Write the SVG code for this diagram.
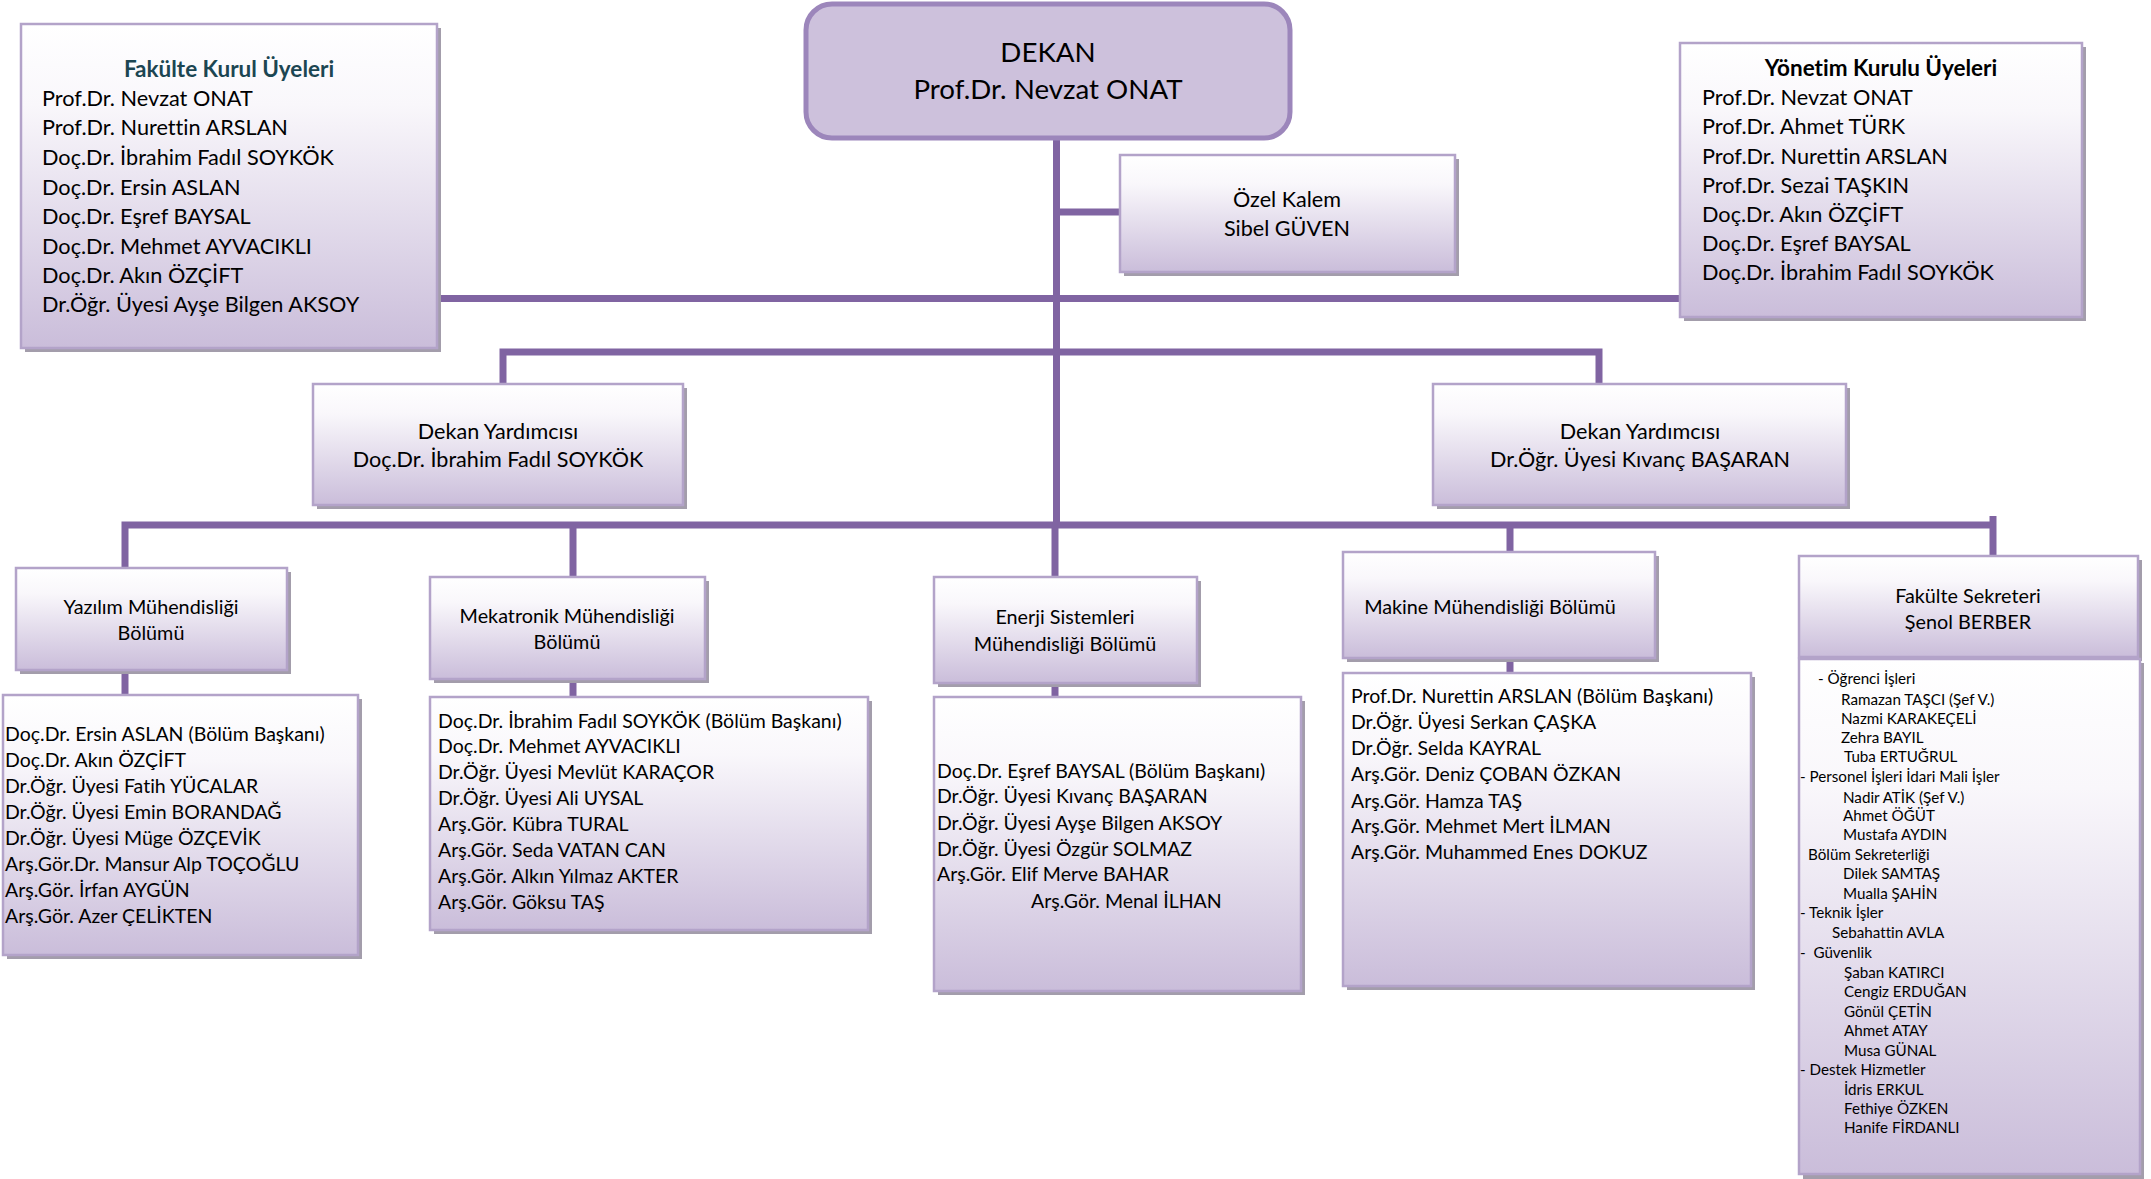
<svg xmlns="http://www.w3.org/2000/svg" width="2151" height="1179" viewBox="0 0 2151 1179">
<defs>
<linearGradient id="g" x1="0" y1="0" x2="0" y2="1">
<stop offset="0" stop-color="#FFFFFF"/>
<stop offset="0.25" stop-color="#F9F7FB"/>
<stop offset="1" stop-color="#CABDDA"/>
</linearGradient>
<style>
.box{fill:url(#g);stroke:#B3A3C9;stroke-width:2.5}
.sh{fill:#A39DAB}
.t{font-family:Lato,"Open Sans","Liberation Sans",sans-serif;fill:#000;font-variant-ligatures:none}
.c{text-anchor:middle}
.top{font-size:21.7px}
.ttl{font-size:22.5px;font-weight:bold}
.big{font-size:27.7px}
.mid{font-size:21.6px}
.hd{font-size:19.8px}
.mem{font-size:19.5px}
.sm{font-size:15.2px}
.con{stroke:#8064A2;stroke-width:7;fill:none}
</style>
</defs>

<g id="connectors">
<path class="con" d="M1056.5,138 V525"/>
<path class="con" d="M1056.5,212 H1120"/>
<path class="con" d="M437,298.5 H1680"/>
<path class="con" d="M503,384 V352 H1599 V384"/>
<path class="con" d="M125,568 V525 H1993"/>
<path class="con" d="M1993,516 V556"/>
<path class="con" d="M573,525 V577 M573,678 V697"/>
<path class="con" d="M1055,525 V577 M1055,683 V697"/>
<path class="con" d="M1510,525 V552 M1510,658 V673"/>
<path class="con" d="M125,670 V695"/>
</g>

<g id="fakulte-kurul">
<rect class="sh" x="25" y="28" width="416" height="324"/>
<rect class="box" x="21" y="24" width="416" height="324"/>
<text class="t ttl c" x="229" y="77" style="fill:#1C4652">Fakülte Kurul Üyeleri</text>
<text class="t top" x="42" y="106">Prof.Dr. Nevzat ONAT</text>
<text class="t top" x="42" y="135">Prof.Dr. Nurettin ARSLAN</text>
<text class="t top" x="42" y="165">Doç.Dr. İbrahim Fadıl SOYKÖK</text>
<text class="t top" x="42" y="195">Doç.Dr. Ersin ASLAN</text>
<text class="t top" x="42" y="224">Doç.Dr. Eşref BAYSAL</text>
<text class="t top" x="42" y="254">Doç.Dr. Mehmet AYVACIKLI</text>
<text class="t top" x="42" y="283">Doç.Dr. Akın ÖZÇİFT</text>
<text class="t top" x="42" y="312">Dr.Öğr. Üyesi Ayşe Bilgen AKSOY</text>
</g>

<g id="dekan">
<rect x="806" y="4" width="484" height="134" rx="26" ry="26" fill="#CDC1DC" stroke="#9C86BB" stroke-width="5"/>
<text class="t big c" x="1048" y="62">DEKAN</text>
<text class="t big c" x="1048" y="99">Prof.Dr. Nevzat ONAT</text>
</g>

<g id="ozel-kalem">
<rect class="sh" x="1124" y="159" width="335" height="117"/>
<rect class="box" x="1120" y="155" width="335" height="117"/>
<text class="t mid c" x="1287" y="207">Özel Kalem</text>
<text class="t mid c" x="1287" y="236">Sibel GÜVEN</text>
</g>

<g id="yonetim-kurulu">
<rect class="sh" x="1684" y="47" width="402" height="274"/>
<rect class="box" x="1680" y="43" width="402" height="274"/>
<text class="t ttl c" x="1881" y="76">Yönetim Kurulu Üyeleri</text>
<text class="t top" x="1702" y="105">Prof.Dr. Nevzat ONAT</text>
<text class="t top" x="1702" y="134">Prof.Dr. Ahmet TÜRK</text>
<text class="t top" x="1702" y="164">Prof.Dr. Nurettin ARSLAN</text>
<text class="t top" x="1702" y="193">Prof.Dr. Sezai TAŞKIN</text>
<text class="t top" x="1702" y="222">Doç.Dr. Akın ÖZÇİFT</text>
<text class="t top" x="1702" y="251">Doç.Dr. Eşref BAYSAL</text>
<text class="t top" x="1702" y="280">Doç.Dr. İbrahim Fadıl SOYKÖK</text>
</g>

<g id="dekan-yrd-1">
<rect class="sh" x="317" y="388" width="370" height="121"/>
<rect class="box" x="313" y="384" width="370" height="121"/>
<text class="t mid c" x="498" y="439">Dekan Yardımcısı</text>
<text class="t mid c" x="498" y="467">Doç.Dr. İbrahim Fadıl SOYKÖK</text>
</g>

<g id="dekan-yrd-2">
<rect class="sh" x="1437" y="388" width="413" height="121"/>
<rect class="box" x="1433" y="384" width="413" height="121"/>
<text class="t mid c" x="1640" y="439">Dekan Yardımcısı</text>
<text class="t mid c" x="1640" y="467">Dr.Öğr. Üyesi Kıvanç BAŞARAN</text>
</g>

<g id="yazilim">
<rect class="sh" x="20" y="572" width="271" height="102"/>
<rect class="box" x="16" y="568" width="271" height="102"/>
<text class="t hd c" x="151" y="614">Yazılım Mühendisliği</text>
<text class="t hd c" x="151" y="640">Bölümü</text>
</g>
<g id="yazilim-uyeler">
<rect class="sh" x="7" y="699" width="355" height="260"/>
<rect class="box" x="3" y="695" width="355" height="260"/>
<text class="t mem" x="5" y="741">Doç.Dr. Ersin ASLAN (Bölüm Başkanı)</text>
<text class="t mem" x="5" y="767">Doç.Dr. Akın ÖZÇİFT</text>
<text class="t mem" x="5" y="793">Dr.Öğr. Üyesi Fatih YÜCALAR</text>
<text class="t mem" x="5" y="819">Dr.Öğr. Üyesi Emin BORANDAĞ</text>
<text class="t mem" x="5" y="845">Dr.Öğr. Üyesi Müge ÖZÇEVİK</text>
<text class="t mem" x="5" y="871">Arş.Gör.Dr. Mansur Alp TOÇOĞLU</text>
<text class="t mem" x="5" y="897">Arş.Gör. İrfan AYGÜN</text>
<text class="t mem" x="5" y="923">Arş.Gör. Azer ÇELİKTEN</text>
</g>

<g id="mekatronik">
<rect class="sh" x="434" y="581" width="275" height="102"/>
<rect class="box" x="430" y="577" width="275" height="102"/>
<text class="t hd c" x="567" y="623">Mekatronik Mühendisliği</text>
<text class="t hd c" x="567" y="649">Bölümü</text>
</g>
<g id="mekatronik-uyeler">
<rect class="sh" x="434" y="701" width="438" height="233"/>
<rect class="box" x="430" y="697" width="438" height="233"/>
<text class="t mem" x="438" y="728">Doç.Dr. İbrahim Fadıl SOYKÖK (Bölüm Başkanı)</text>
<text class="t mem" x="438" y="753">Doç.Dr. Mehmet AYVACIKLI</text>
<text class="t mem" x="438" y="779">Dr.Öğr. Üyesi Mevlüt KARAÇOR</text>
<text class="t mem" x="438" y="805">Dr.Öğr. Üyesi Ali UYSAL</text>
<text class="t mem" x="438" y="831">Arş.Gör. Kübra TURAL</text>
<text class="t mem" x="438" y="857">Arş.Gör. Seda VATAN CAN</text>
<text class="t mem" x="438" y="883">Arş.Gör. Alkın Yılmaz AKTER</text>
<text class="t mem" x="438" y="909">Arş.Gör. Göksu TAŞ</text>
</g>

<g id="enerji">
<rect class="sh" x="938" y="581" width="263" height="106"/>
<rect class="box" x="934" y="577" width="263" height="106"/>
<text class="t hd c" x="1065" y="624">Enerji Sistemleri</text>
<text class="t hd c" x="1065" y="651">Mühendisliği Bölümü</text>
</g>
<g id="enerji-uyeler">
<rect class="sh" x="938" y="701" width="367" height="294"/>
<rect class="box" x="934" y="697" width="367" height="294"/>
<text class="t mem" x="937" y="778">Doç.Dr. Eşref BAYSAL (Bölüm Başkanı)</text>
<text class="t mem" x="937" y="803">Dr.Öğr. Üyesi Kıvanç BAŞARAN</text>
<text class="t mem" x="937" y="830">Dr.Öğr. Üyesi Ayşe Bilgen AKSOY</text>
<text class="t mem" x="937" y="856">Dr.Öğr. Üyesi Özgür SOLMAZ</text>
<text class="t mem" x="937" y="881">Arş.Gör. Elif Merve BAHAR</text>
<text class="t mem" x="1031" y="908">Arş.Gör. Menal İLHAN</text>
</g>

<g id="makine">
<rect class="sh" x="1347" y="556" width="312" height="106"/>
<rect class="box" x="1343" y="552" width="312" height="106"/>
<text class="t hd c" x="1490" y="614">Makine Mühendisliği Bölümü</text>
</g>
<g id="makine-uyeler">
<rect class="sh" x="1347" y="677" width="408" height="313"/>
<rect class="box" x="1343" y="673" width="408" height="313"/>
<text class="t mem" x="1351" y="703">Prof.Dr. Nurettin ARSLAN (Bölüm Başkanı)</text>
<text class="t mem" x="1351" y="729">Dr.Öğr. Üyesi Serkan ÇAŞKA</text>
<text class="t mem" x="1351" y="755">Dr.Öğr. Selda KAYRAL</text>
<text class="t mem" x="1351" y="781">Arş.Gör. Deniz ÇOBAN ÖZKAN</text>
<text class="t mem" x="1351" y="808">Arş.Gör. Hamza TAŞ</text>
<text class="t mem" x="1351" y="833">Arş.Gör. Mehmet Mert İLMAN</text>
<text class="t mem" x="1351" y="859">Arş.Gör. Muhammed Enes DOKUZ</text>
</g>

<g id="fakulte-sekreteri">
<rect class="sh" x="1803" y="560" width="339" height="101"/>
<rect class="box" x="1799" y="556" width="339" height="101"/>
<text class="t hd c" x="1968" y="603">Fakülte Sekreteri</text>
<text class="t hd c" x="1968" y="629">Şenol BERBER</text>
</g>
<g id="sekreterlik-personel">
<rect class="sh" x="1803" y="663" width="341" height="516"/>
<rect class="box" x="1799" y="659" width="341" height="515"/>
<text class="t sm" x="1818" y="684">- Öğrenci İşleri</text>
<text class="t sm" x="1841" y="705">Ramazan TAŞCI (Şef V.)</text>
<text class="t sm" x="1841" y="724">Nazmi KARAKEÇELİ</text>
<text class="t sm" x="1841" y="743">Zehra BAYIL</text>
<text class="t sm" x="1844" y="762">Tuba ERTUĞRUL</text>
<text class="t sm" x="1800" y="782">- Personel İşleri İdari Mali İşler</text>
<text class="t sm" x="1843" y="803">Nadir ATİK (Şef V.)</text>
<text class="t sm" x="1843" y="821">Ahmet ÖĞÜT</text>
<text class="t sm" x="1843" y="840">Mustafa AYDIN</text>
<text class="t sm" x="1808" y="860">Bölüm Sekreterliği</text>
<text class="t sm" x="1843" y="879">Dilek SAMTAŞ</text>
<text class="t sm" x="1843" y="899">Mualla ŞAHİN</text>
<text class="t sm" x="1800" y="918">- Teknik İşler</text>
<text class="t sm" x="1832" y="938">Sebahattin AVLA</text>
<text class="t sm" x="1800" y="958">-&#160; Güvenlik</text>
<text class="t sm" x="1844" y="978">Şaban KATIRCI</text>
<text class="t sm" x="1844" y="997">Cengiz ERDUĞAN</text>
<text class="t sm" x="1844" y="1017">Gönül ÇETİN</text>
<text class="t sm" x="1844" y="1036">Ahmet ATAY</text>
<text class="t sm" x="1844" y="1056">Musa GÜNAL</text>
<text class="t sm" x="1800" y="1075">- Destek Hizmetler</text>
<text class="t sm" x="1844" y="1095">İdris ERKUL</text>
<text class="t sm" x="1844" y="1114">Fethiye ÖZKEN</text>
<text class="t sm" x="1844" y="1133">Hanife FİRDANLI</text>
</g>
</svg>
